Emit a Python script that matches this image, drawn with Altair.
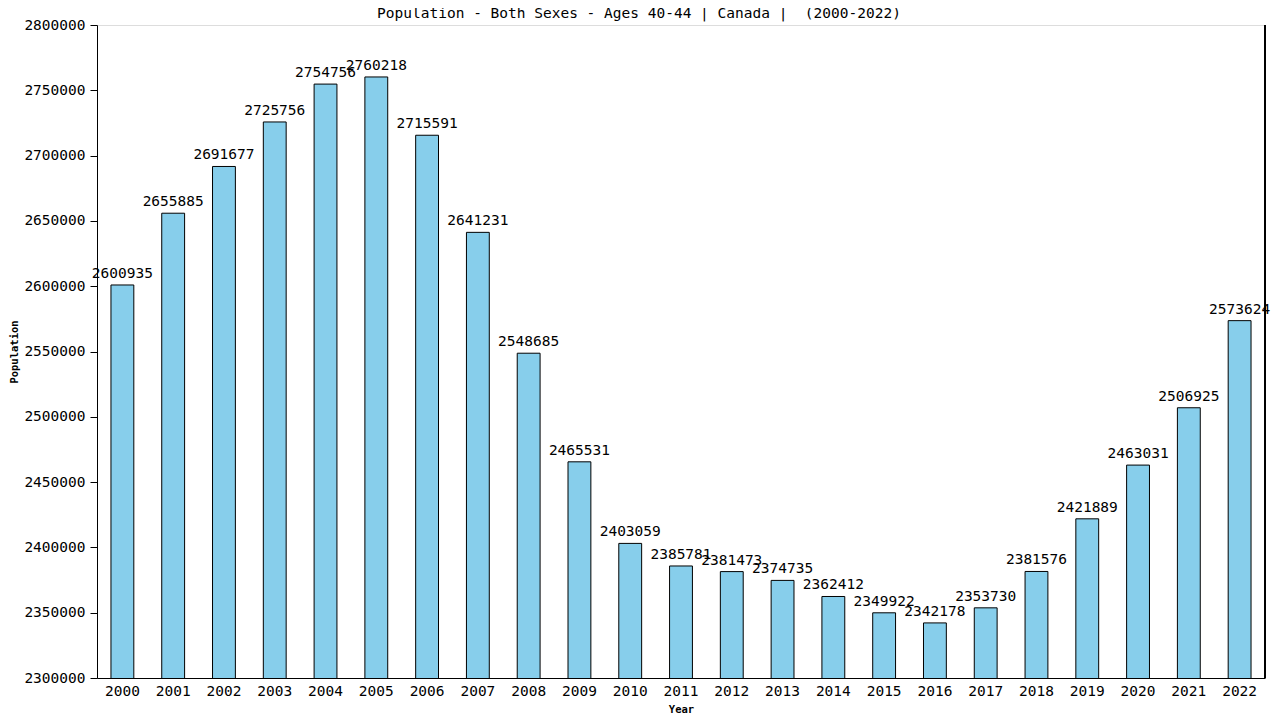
import altair as alt
import pandas as pd

years = [str(y) for y in range(2000, 2023)]
population = [2600935, 2655885, 2691677, 2725756, 2754756, 2760218, 2715591,
              2641231, 2548685, 2465531, 2403059, 2385781, 2381473, 2374735,
              2362412, 2349922, 2342178, 2353730, 2381576, 2421889, 2463031,
              2506925, 2573624]
y_ticks = list(range(2300000, 2800001, 50000))

df = pd.DataFrame({"Year": years, "Population": population})

FONT = "DejaVu Sans Mono"
W, H = 1168, 653

x = alt.X("Year:N", sort=years,
          scale=alt.Scale(paddingInner=0.55, paddingOuter=0.275),
          axis=alt.Axis(title="Year", labelAngle=0, ticks=False, labelPadding=6,
                        labelFont=FONT, labelFontSize=14.5, labelColor="black",
                        titleFont=FONT, titleFontSize=10.5, titleFontWeight="bold",
                        titleY=31, titleBaseline="middle", domainColor="black",
                        grid=False))
yscale = alt.Scale(domain=[y_ticks[0], y_ticks[-1]], zero=False, nice=False)

base = alt.Chart(df)

bars = base.mark_bar(color="#87CEEB", stroke="black", strokeWidth=1, clip=True).encode(
    x=x,
    y=alt.Y("Population:Q", scale=yscale,
            axis=alt.Axis(title="Population", values=y_ticks,
                          format="d", grid=False, tickSize=7, labelPadding=5,
                          labelFont=FONT, labelFontSize=14.5, labelColor="black",
                          tickColor="black", domainColor="black",
                          titleFont=FONT, titleFontSize=10.5, titleFontWeight="bold",
                          titleX=-83, titleBaseline="middle")),
)

labels = base.mark_text(font=FONT, fontSize=14.5, baseline="bottom", dy=-4,
                        color="black").encode(
    x=x,
    y=alt.Y("Population:Q", scale=yscale),
    text=alt.Text("Population:Q", format="d"),
)

right_line = base.mark_rule(color="black", strokeWidth=1).encode(
    x=alt.value(W), y=alt.value(0), y2=alt.value(H)
)

chart = alt.layer(bars, labels, right_line).properties(
    width=W, height=H,
    title=alt.TitleParams("Population - Both Sexes - Ages 40-44 | Canada |\u00a0 (2000-2022)",
                          font=FONT, fontSize=14.5, fontWeight="normal",
                          anchor="middle", frame="group", dx=-42, offset=0, dy=4),
    autosize=alt.AutoSizeParams(type="none"),
    padding={"left": 89, "top": 17, "right": 7, "bottom": 42},
).configure_view(stroke="transparent", strokeWidth=0).configure(background="white")

chart.save("out.html", embed_options={"renderer": "svg", "actions": False})
